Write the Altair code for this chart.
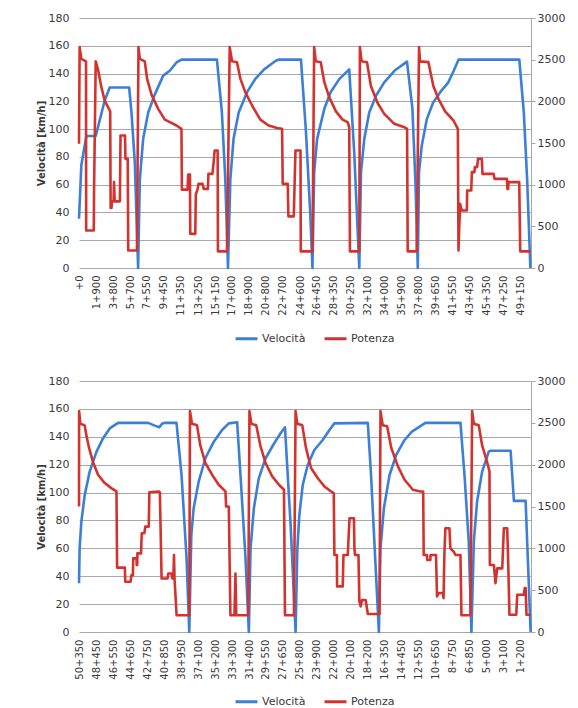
import json
import altair as alt
import pandas as pd

BLUE = "#3D7FD6"
RED = "#D3332F"
FONT = "DejaVu Sans"
TXT = "#3A3A3A"
GRID = "#A8A8A8"

series = ["Velocità", "Potenza"]

# ---------------- top panel (andata) ----------------
top_vel_km = [0, 0.26, 0.82, 1.86, 2.86, 3.42, 5.58, 5.84, 6.21, 6.58,
              6.77, 7.14, 7.70, 8.44, 9.37, 10.1, 10.85, 11.4, 15.35, 15.9,
              16.28, 16.58, 16.84, 17.2, 17.77, 18.7, 19.6, 20.6, 21.86, 22.2,
              24.7, 25.24, 25.73, 25.98, 26.17, 26.5, 27.3, 28.0, 28.96, 30.07,
              30.63, 31.19, 31.38, 31.75, 32.3, 33.05, 33.97, 35.1, 36.5, 37.1,
              37.45, 37.7, 37.84, 38.14, 38.7, 39.4, 40.2, 41.1, 41.7, 42.23,
              49.0, 49.5, 49.87, 50.23]
top_vel = [35.5, 74, 95, 95, 120.6, 130, 130, 112, 76, 0,
           64, 93, 112, 125, 138.5, 142, 148, 150, 150, 112,
           64, 0, 64, 93, 112, 126.6, 136, 143, 149, 150,
           150, 100, 40, 0, 69, 93, 114.6, 126.6, 136, 143,
           83, 0, 69, 93, 112, 124, 133.7, 142, 148.6, 115,
           60, 0, 69, 88, 107, 119, 126.6, 133.7, 142, 150,
           150, 112, 64, 0]

top_pow_km = [0, 0.07, 0.26, 0.78, 0.8, 1.64, 1.67, 1.86, 2.12, 2.49,
              2.86, 3.47, 3.52, 3.62, 3.65, 3.85, 3.9, 3.97, 4.55, 4.62,
              5.12, 5.17, 5.42, 5.48, 6.45, 6.62, 6.77, 7.32, 7.58, 8.07,
              8.81, 9.55, 10.11, 10.85, 11.4, 11.45, 12.08, 12.15, 12.35, 12.38,
              12.94, 13.0, 13.2, 13.3, 13.75, 13.87, 14.35, 14.4, 14.85, 14.9,
              15.1, 15.43, 15.46, 16.47, 16.77, 17.03, 17.58, 17.96, 18.5, 19.26,
              20.18, 21.1, 22.04, 22.6, 22.67, 23.23, 23.3, 23.9, 24.09, 24.65,
              24.68, 25.98, 26.17, 26.35, 26.9, 27.3, 27.84, 28.59, 29.33, 29.89,
              30.07, 30.15, 31.19, 31.26, 31.45, 32.05, 32.49, 33.23, 33.97, 35.09,
              36.21, 36.51, 36.58, 37.58, 37.84, 37.95, 38.88, 39.44, 40.0, 40.74,
              41.67, 42.16, 42.23, 42.41, 42.6, 43.16, 43.2, 43.65, 43.72, 44.0,
              44.05, 44.3, 44.4, 44.83, 44.9, 46.13, 46.24, 47.62, 47.68, 47.75,
              47.8, 48.99, 49.1, 50.23]
top_pow = [1490, 2650, 2510, 2480, 450, 450, 870, 2480, 2380, 2170,
           2010, 1880, 720, 720, 800, 800, 1030, 800, 800, 1590,
           1590, 1310, 1310, 210, 210, 2650, 2510, 2480, 2270, 2080,
           1910, 1780, 1750, 1710, 1670, 940, 940, 1120, 1120, 410,
           410, 880, 950, 1010, 1010, 950, 950, 1130, 1130, 1180,
           1410, 1410, 200, 200, 2650, 2480, 2470, 2270, 2110, 1950,
           1780, 1710, 1680, 1670, 1010, 1010, 620, 620, 1410, 1410,
           200, 200, 2650, 2480, 2470, 2230, 2050, 1880, 1780, 1750,
           1690, 200, 200, 2650, 2480, 2470, 2180, 1980, 1850, 1730,
           1690, 1670, 200, 200, 2650, 2480, 2470, 2180, 2030, 1880,
           1770, 1670, 210, 770, 690, 690, 930, 930, 1150, 1150,
           1210, 1210, 1310, 1310, 1130, 1130, 1070, 1070, 950, 950,
           1030, 1030, 200, 200]

top_ticks = [0, 1.9, 3.8, 5.7, 7.55, 9.45, 11.35, 13.25, 15.15, 17.0, 18.9,
             20.8, 22.7, 24.6, 26.45, 28.35, 30.25, 32.1, 34.0, 35.9, 37.8,
             39.65, 41.55, 43.45, 45.35, 47.25, 49.15]
top_tick_labels = ["+0", "1+900", "3+800", "5+700", "7+550", "9+450", "11+350",
                   "13+250", "15+150", "17+000", "18+900", "20+800", "22+700",
                   "24+600", "26+450", "28+350", "30+250", "32+100", "34+000",
                   "35+900", "37+800", "39+650", "41+550", "43+450", "45+350",
                   "47+250", "49+150"]

# ---------------- bottom panel (ritorno) ----------------
bot_vel_km = [50.35, 50.28, 50.09, 49.72, 49.16, 48.42, 47.67, 46.93, 46.0, 42.65,
              41.91, 41.43, 41.06, 40.8, 39.5, 38.94, 38.38, 38.08, 37.85, 37.59,
              37.03, 36.29, 35.35, 34.43, 33.68, 32.75, 32.38, 31.82, 31.45, 31.26,
              30.89, 30.35, 29.59, 28.66, 27.92, 27.43, 26.8, 26.25, 26.05, 25.83,
              25.45, 24.9, 24.16, 23.23, 22.48, 21.93, 18.21, 17.85, 17.39, 16.98,
              16.8, 16.42, 15.79, 15.05, 14.12, 13.3, 12.74, 11.81, 7.9, 7.45,
              6.98, 6.68, 6.41, 6.05, 5.49, 4.75, 4.55, 2.32, 1.95, 0.65,
              0.09]
bot_vel = [35, 60, 79, 98, 115, 129, 139, 146, 150, 150,
           148, 146.8, 149.6, 150, 150, 112.6, 53, 0, 69.7, 88.8,
           107.9, 124.6, 136.5, 144.9, 149.6, 150.4, 112.6, 53, 0, 60,
           88.8, 110, 124.6, 135, 142.5, 146.8, 76.8, 0, 60, 84,
           105.5, 119.8, 130.5, 137.7, 144.9, 149.6, 150, 112.6, 53, 0,
           60, 88.8, 112.6, 127, 137.7, 143.7, 146, 150, 150, 112.6,
           65, 0, 65, 93.6, 115, 129.4, 130, 130, 94, 94,
           0]

bot_pow_km = [50.35, 50.34, 50.2, 49.72, 49.53, 49.23, 48.79, 48.23, 47.49, 46.75,
              46.18, 46.11, 45.25, 45.2, 44.62, 44.51, 44.35, 44.32, 43.95, 43.93,
              43.87, 43.85, 43.45, 43.37, 43.08, 42.97, 42.59, 42.52, 41.5, 41.35,
              41.16, 40.49, 40.42, 40.05, 39.97, 39.85, 39.78, 39.72, 39.49, 38.08,
              38.0, 37.78, 37.22, 36.85, 36.29, 35.54, 34.8, 34.05, 33.98, 33.68,
              33.5, 33.05, 32.94, 32.85, 31.52, 31.38, 31.16, 30.63, 30.15, 29.59,
              28.85, 28.1, 27.54, 27.43, 26.43, 26.25, 26.06, 25.5, 25.09, 24.53,
              23.79, 23.04, 22.3, 22.0, 21.93, 21.65, 21.63, 21.0, 20.92, 20.44,
              20.25, 19.75, 19.7, 19.63, 19.25, 19.15, 19.0, 18.85, 18.45, 18.21,
              16.91, 16.8, 16.55, 16.06, 15.6, 14.86, 14.12, 13.19, 12.37, 12.05,
              11.99, 11.62, 11.6, 11.25, 11.23, 10.62, 10.51, 10.32, 9.87, 9.78,
              9.69, 9.58, 9.13, 9.02, 8.65, 8.46, 7.9, 7.79, 6.79, 6.6,
              6.41, 5.86, 5.49, 4.93, 4.67, 4.63, 4.18, 4.0, 3.81, 3.25,
              3.07, 2.7, 2.58, 2.45, 1.69, 1.58, 0.85, 0.75, 0.65, 0.55,
              0.09]
bot_pow = [1500, 2640, 2490, 2470, 2350, 2200, 2030, 1880, 1780, 1720,
           1680, 770, 770, 600, 600, 680, 680, 880, 880, 800,
           800, 940, 940, 1180, 1180, 1260, 1260, 1670, 1680, 1670,
           640, 640, 700, 700, 640, 640, 920, 640, 200, 200,
           2640, 2490, 2470, 2230, 2020, 1880, 1760, 1680, 1500, 1500,
           200, 200, 700, 200, 200, 2640, 2490, 2470, 2220, 2020,
           1860, 1760, 1700, 200, 200, 2640, 2490, 2470, 2200, 1960,
           1840, 1740, 1680, 1660, 920, 920, 545, 545, 920, 920,
           1360, 1360, 1000, 920, 920, 367, 307, 383, 383, 215,
           215, 2640, 2470, 2460, 2200, 1980, 1820, 1700, 1680, 1680,
           920, 920, 860, 860, 920, 920, 425, 467, 467, 405,
           920, 1240, 1240, 1000, 960, 920, 920, 200, 200, 2640,
           2490, 2470, 2230, 2030, 1920, 800, 800, 583, 760, 760,
           1240, 1240, 800, 207, 207, 445, 445, 525, 525, 207,
           207]

bot_ticks = [50.35, 48.45, 46.55, 44.65, 42.75, 40.85, 38.95, 37.1, 35.2, 33.3,
             31.4, 29.55, 27.65, 25.8, 23.9, 22.0, 20.1, 18.2, 16.35, 14.45,
             12.55, 10.65, 8.75, 6.85, 5.0, 3.1, 1.2]
bot_tick_labels = ["50+350", "48+450", "46+550", "44+650", "42+750", "40+850",
                   "38+950", "37+100", "35+200", "33+300", "31+400", "29+550",
                   "27+650", "25+800", "23+900", "22+000", "20+100", "18+200",
                   "16+350", "14+450", "12+550", "10+650", "8+750", "6+850",
                   "5+000", "3+100", "1+200"]

vel_ticks = list(range(0, 181, 20))
pow_ticks = list(range(0, 3001, 500))


def panel(vkm, vel, pkm, pw, ticks, tick_labels, domain, reverse, height):
    dv = pd.DataFrame({"km": vkm, "val": vel, "serie": series[0],
                       "idx": range(len(vkm))})
    dp = pd.DataFrame({"km": pkm, "val": pw, "serie": series[1],
                       "idx": range(len(pkm))})
    expr = f"{json.dumps(tick_labels)}[indexof({json.dumps(ticks)}, datum.value)]"
    x = alt.X("km:Q",
              scale=alt.Scale(domain=domain, reverse=reverse, nice=False, zero=False),
              axis=alt.Axis(values=ticks, labelExpr=expr, labelAngle=-90,
                            grid=False, domain=False, ticks=False, title=None,
                            labelFontSize=10, labelColor=TXT, labelPadding=7,
                            labelOverlap=False, labelFlush=False))
    color = alt.Color("serie:N",
                      scale=alt.Scale(domain=series, range=[BLUE, RED]),
                      legend=alt.Legend(orient="none", legendX=155, legendY=308,
                                        direction="horizontal", title=None,
                                        symbolType="stroke", symbolStrokeWidth=3,
                                        symbolSize=480, labelFontSize=11,
                                        labelColor=TXT, columnPadding=12,
                                        labelOffset=3, labelFont=FONT))
    vline = alt.Chart(dv).mark_line(strokeWidth=2.6, strokeJoin="round").encode(
        x=x,
        y=alt.Y("val:Q", scale=alt.Scale(domain=[0, 180], nice=False),
                axis=alt.Axis(orient="left", values=vel_ticks,
                              title="Velocità  [km/h]", titleFontSize=10,
                              titleFontWeight="bold", titleColor=TXT,
                              titlePadding=2, labelFontSize=11,
                              labelColor=TXT, labelPadding=10, grid=True,
                              gridColor=GRID, gridWidth=1.2, domain=False,
                              ticks=False)),
        color=color,
        order=alt.Order("idx:Q"),
    )
    pline = alt.Chart(dp).mark_line(strokeWidth=2.6, strokeJoin="round").encode(
        x=x,
        y=alt.Y("val:Q", scale=alt.Scale(domain=[0, 3000], nice=False),
                axis=alt.Axis(orient="right", values=pow_ticks, title=None,
                              format="d", labelFontSize=11, labelColor=TXT,
                              labelPadding=2, grid=False, domain=True,
                              domainColor=GRID, ticks=True, tickSize=4,
                              tickColor=GRID)),
        color=color,
        order=alt.Order("idx:Q"),
    )
    return alt.layer(vline, pline).resolve_scale(y="independent").properties(
        width=452, height=height)


top = panel(top_vel_km, top_vel, top_pow_km, top_pow, top_ticks,
            top_tick_labels, [0, 50.3], False, 250)
bottom = panel(bot_vel_km, bot_vel, bot_pow_km, bot_pow, bot_ticks,
               bot_tick_labels, [0.05, 50.35], True, 251)

chart = alt.vconcat(top, bottom, spacing=30).resolve_scale(
    x="independent", y="independent", color="independent"
).resolve_legend(color="independent").properties(
    padding={"left": 36, "top": 12, "right": 6, "bottom": 2},
    background="white",
).configure_view(stroke=None).configure_axis(
    labelFont=FONT, titleFont=FONT
)

chart.save("out.html", embed_options={"renderer": "svg", "actions": False})
